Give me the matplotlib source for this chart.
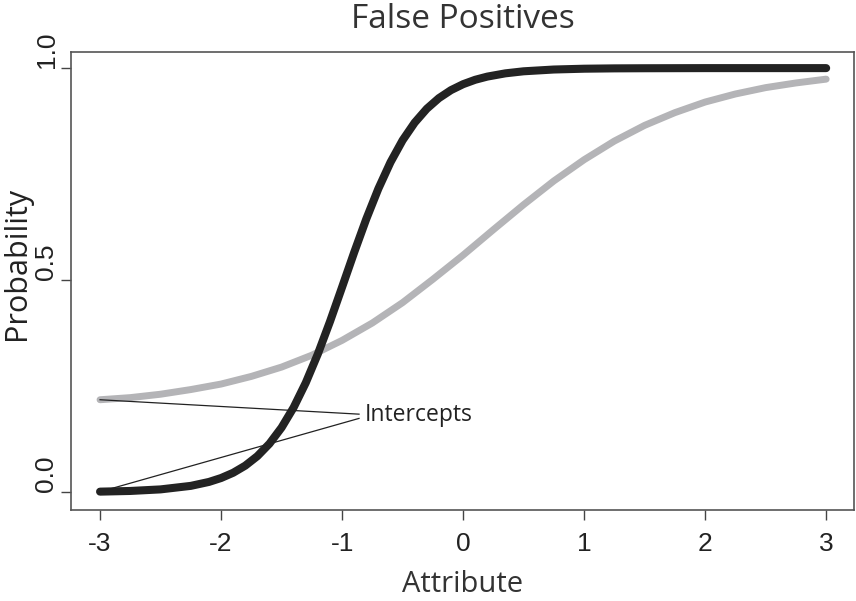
import matplotlib
matplotlib.use("Agg")
import matplotlib.pyplot as plt

# Data
attr_black = [-3.0, -2.75, -2.5, -2.25, -2.1, -2.0, -1.9, -1.8, -1.7, -1.6, -1.5, -1.4, -1.3,
              -1.2, -1.1, -1.0, -0.9, -0.8, -0.7, -0.6, -0.5, -0.4, -0.3, -0.2, -0.1, 0.0,
              0.1, 0.2, 0.35, 0.5, 0.75, 1.0, 1.25, 1.5, 2.0, 2.5, 3.0]
prob_black = [0.0013, 0.0029, 0.0066, 0.0149, 0.0242, 0.0334, 0.0458, 0.0626, 0.0850, 0.1144,
              0.1524, 0.2000, 0.2581, 0.3261, 0.4023, 0.4835, 0.5656, 0.6443, 0.7158, 0.7780,
              0.8298, 0.8715, 0.9042, 0.9292, 0.9481, 0.9621, 0.9725, 0.9800, 0.9877, 0.9925,
              0.9967, 0.9986, 0.9994, 0.9997, 1.0, 1.0, 1.0]
attr_gray = [-3.0, -2.75, -2.5, -2.25, -2.0, -1.75, -1.5, -1.25, -1.0, -0.75, -0.5, -0.25,
             0.0, 0.25, 0.5, 0.75, 1.0, 1.25, 1.5, 1.75, 2.0, 2.25, 2.5, 2.75, 3.0]
prob_gray = [0.218, 0.223, 0.231, 0.242, 0.255, 0.273, 0.295, 0.323, 0.358, 0.399, 0.447, 0.502,
             0.559, 0.619, 0.678, 0.734, 0.784, 0.828, 0.865, 0.895, 0.920, 0.939, 0.954, 0.965, 0.974]
x_ticks = [-3, -2, -1, 0, 1, 2, 3]
y_ticks = [0.0, 0.5, 1.0]
y_tick_labels = ["0.0", "0.5", "1.0"]
title = "False Positives"
x_label = "Attribute"
y_label = "Probability"
note = "Intercepts"
note_xy = (-0.86, 0.18)
intercept_points = [(-3.0, 0.218), (-3.0, 0.001)]

fig = plt.figure(figsize=(8.56, 6.01), dpi=100)
ax = fig.add_axes([71/856, 1-510/601, 783/856, 458/601])

ax.plot(attr_gray, prob_gray, color="#b4b4b7", lw=5.0, solid_capstyle="round", solid_joinstyle="round", zorder=2)
ax.plot(attr_black, prob_black, color="#232323", lw=5.8, solid_capstyle="round", solid_joinstyle="round", zorder=3)

# annotation lines
ax.plot([intercept_points[0][0], note_xy[0]], [intercept_points[0][1], note_xy[1] + 0.004], color="#222222", lw=0.9, zorder=4)
ax.plot([intercept_points[1][0], note_xy[0]], [intercept_points[1][1], note_xy[1] - 0.006], color="#222222", lw=0.9, zorder=4)
ax.text(note_xy[0] + 0.05, note_xy[1] + 0.002, note, fontsize=16.5, family="Open Sans", va="center", ha="left", color="#222222")

ax.set_xlim(-3.24, 3.23)
ax.set_ylim(-0.042, 1.038)

ax.set_xticks(x_ticks)
ax.set_yticks(y_ticks)
ax.tick_params(axis="x", direction="out", length=7, width=1, color="#444444", pad=9,
               labelsize=19, labelcolor="#222222")
ax.tick_params(axis="y", direction="out", length=7, width=1, color="#444444", pad=2,
               labelsize=19, labelcolor="#222222")
ax.set_xticklabels([str(v) for v in x_ticks])
ax.set_yticklabels(y_tick_labels, rotation=90, va="bottom")
for lab in ax.get_xticklabels() + ax.get_yticklabels():
    lab.set_fontfamily("Liberation Sans")
    lab.set_fontsize(19)

for s in ax.spines.values():
    s.set_color("#555555")
    s.set_linewidth(1.2)

fig.text(463/856, 1-20/601, title, ha="center", va="center", fontsize=24, family="Open Sans", color="#333333")
fig.text(463/856, 1-584/601, x_label, ha="center", va="center", fontsize=21, family="Open Sans", color="#333333")
fig.text(17/856, 1-263/601, y_label, ha="center", va="center", rotation=90, fontsize=22, family="Open Sans", color="#222222")

fig.savefig("out.png", dpi=100)
